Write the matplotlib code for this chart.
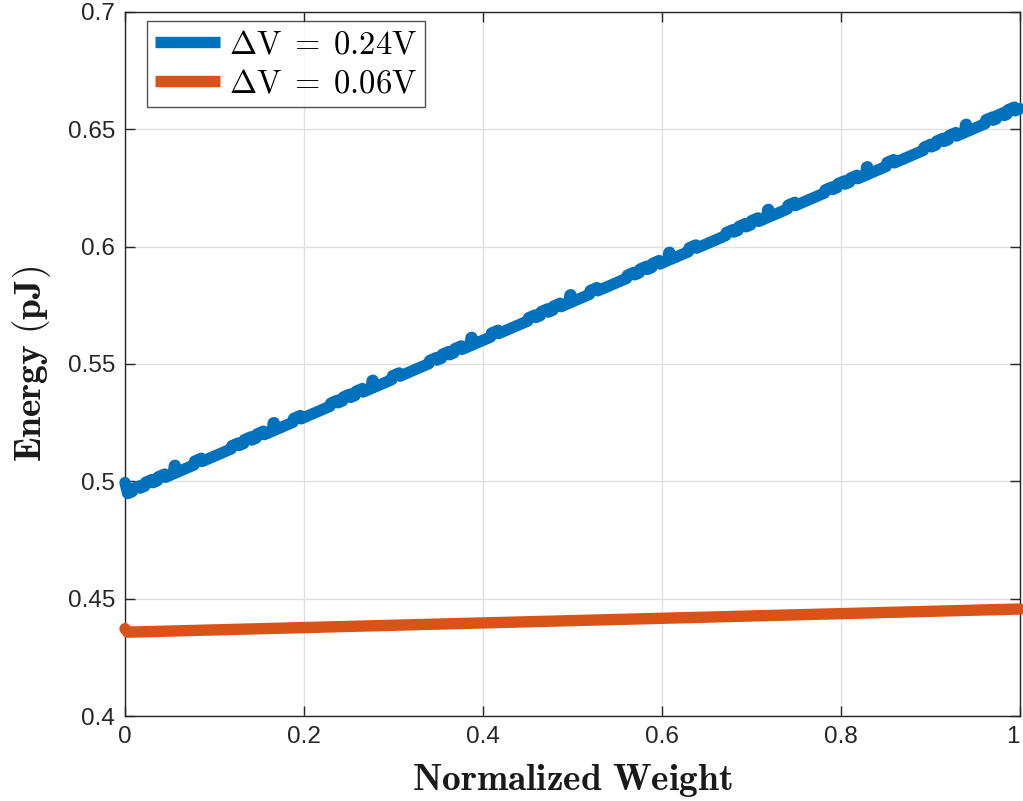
import numpy as np
import matplotlib
matplotlib.use("Agg")
import matplotlib.pyplot as plt

plt.rcParams["mathtext.fontset"] = "cm"
plt.rcParams["font.family"] = ["Liberation Sans", "DejaVu Sans"]

# End points of the two energy traces (normalized weight 0 -> 1)
weight_ends = [0.0, 1.0]
energy_024_ends = [0.4943, 0.6588]
energy_006_ends = [0.4357, 0.4456]
energy_024_first = 0.4995   # first sample at weight 0
energy_006_first = 0.4372

# Narrow spikes on the 0.24 V trace
spike_weights = [0.0556, 0.1661, 0.2766, 0.3871, 0.4976, 0.6081, 0.7186, 0.8291, 0.9396]
spike_heights = [0.0033, 0.0033, 0.0032, 0.0033, 0.0033, 0.0032, 0.0033, 0.0033, 0.0032]

# Short raised plateaus on the 0.24 V trace
step_weights = [0.0126, 0.0266, 0.0406, 0.0816,
                0.1231, 0.1371, 0.1511, 0.1921,
                0.2336, 0.2476, 0.2616, 0.3026,
                0.3441, 0.3581, 0.3721, 0.4131,
                0.4546, 0.4686, 0.4826, 0.5236,
                0.5651, 0.5791, 0.5931, 0.6341,
                0.6756, 0.6896, 0.7036, 0.7446,
                0.7861, 0.8001, 0.8141, 0.8551,
                0.8966, 0.9106, 0.9246, 0.9656,
                0.9780, 0.9900]
step_heights = [0.0011, 0.0015, 0.0015, 0.0015,
                0.0012, 0.0015, 0.0016, 0.0015,
                0.0012, 0.0015, 0.0016, 0.0015,
                0.0012, 0.0015, 0.0016, 0.0015,
                0.0012, 0.0015, 0.0016, 0.0015,
                0.0012, 0.0015, 0.0016, 0.0015,
                0.0012, 0.0015, 0.0016, 0.0015,
                0.0012, 0.0015, 0.0016, 0.0015,
                0.0012, 0.0015, 0.0016, 0.0015,
                0.0013, 0.0017]

x_ticks = [0, 0.2, 0.4, 0.6, 0.8, 1]
x_ticklabels = ["0", "0.2", "0.4", "0.6", "0.8", "1"]
y_ticks = [0.4, 0.45, 0.5, 0.55, 0.6, 0.65, 0.7]
y_ticklabels = ["0.4", "0.45", "0.5", "0.55", "0.6", "0.65", "0.7"]

labels = [r"$\Delta\mathrm{V}\;=\;0.24\mathrm{V}$", r"$\Delta\mathrm{V}\;=\;0.06\mathrm{V}$"]
colors = ["#0072BD", "#D95319"]


def base(w, ends):
    return float(np.interp(w, weight_ends, ends))


# assemble the 0.24 V polyline: start sample, spikes and plateaus along the trend
events = [(w, h, "spike") for w, h in zip(spike_weights, spike_heights)]
events += [(w, h, "step") for w, h in zip(step_weights, step_heights)]
events.sort()
wb = [0.0, 0.003]
eb = [energy_024_first, base(0.003, energy_024_ends)]
for w, h, kind in events:
    if kind == "spike":
        pts = [(w - 0.0015, 0.0), (w - 0.0005, h), (w + 0.0005, h), (w + 0.0015, 0.0)]
    else:
        d = 0.0045
        pts = [(w - d, 0.0), (w - d + 0.0008, h), (w + d - 0.0008, h), (w + d, 0.0)]
    for px, dh in pts:
        wb.append(px)
        eb.append(base(px, energy_024_ends) + dh)
wb.append(1.0)
eb.append(energy_024_ends[1])

wo = [0.0, 0.003, 1.0]
eo = [energy_006_first, base(0.003, energy_006_ends), energy_006_ends[1]]

fig = plt.figure(figsize=(10.23, 8.01), dpi=100)
ax = fig.add_axes([125 / 1023, 1 - 716 / 801, 895 / 1023, 704 / 801])

lw = 8.2
ax.plot(wb, eb, color=colors[0], lw=lw, solid_joinstyle="round",
        solid_capstyle="round", label=labels[0], clip_on=False, zorder=3)
ax.plot(wo, eo, color=colors[1], lw=lw, solid_joinstyle="round",
        solid_capstyle="round", label=labels[1], clip_on=False, zorder=3)

ax.set_xlim(0, 1)
ax.set_ylim(0.4, 0.7)
ax.set_xticks(x_ticks)
ax.set_xticklabels(x_ticklabels)
ax.set_yticks(y_ticks)
ax.set_yticklabels(y_ticklabels)
# keep the last x tick label inside the figure edge
ax.get_xticklabels()[-1].set_horizontalalignment("right")

edge = "#262626"
ax.grid(True, color="#dfdfdf", lw=1.0)
ax.set_axisbelow(True)
for sp in ax.spines.values():
    sp.set_color(edge)
    sp.set_linewidth(1.0)
ax.tick_params(direction="in", length=7, width=1.0, color=edge, labelcolor=edge,
               labelsize=17.5, top=True, right=True, pad=7)

ax.set_xlabel(r"$\mathbf{Normalized\ Weight}$", fontsize=27, color="#1a1a1a", labelpad=10)
ax.set_ylabel(r"$\mathbf{Energy\ (pJ)}$", fontsize=27, color="#1a1a1a", labelpad=11)

leg = ax.legend(loc="upper left", bbox_to_anchor=(22 / 895, 1 - 9 / 704),
                fontsize=23.5, frameon=True, fancybox=False, handlelength=2.0,
                handletextpad=0.25, borderpad=0.25, labelspacing=0.25,
                borderaxespad=0)
leg.get_frame().set_edgecolor(edge)
leg.get_frame().set_linewidth(1.0)
for h in leg.get_lines():
    h.set_solid_capstyle("butt")
    h.set_linewidth(lw)

fig.savefig("out.png", dpi=100)
